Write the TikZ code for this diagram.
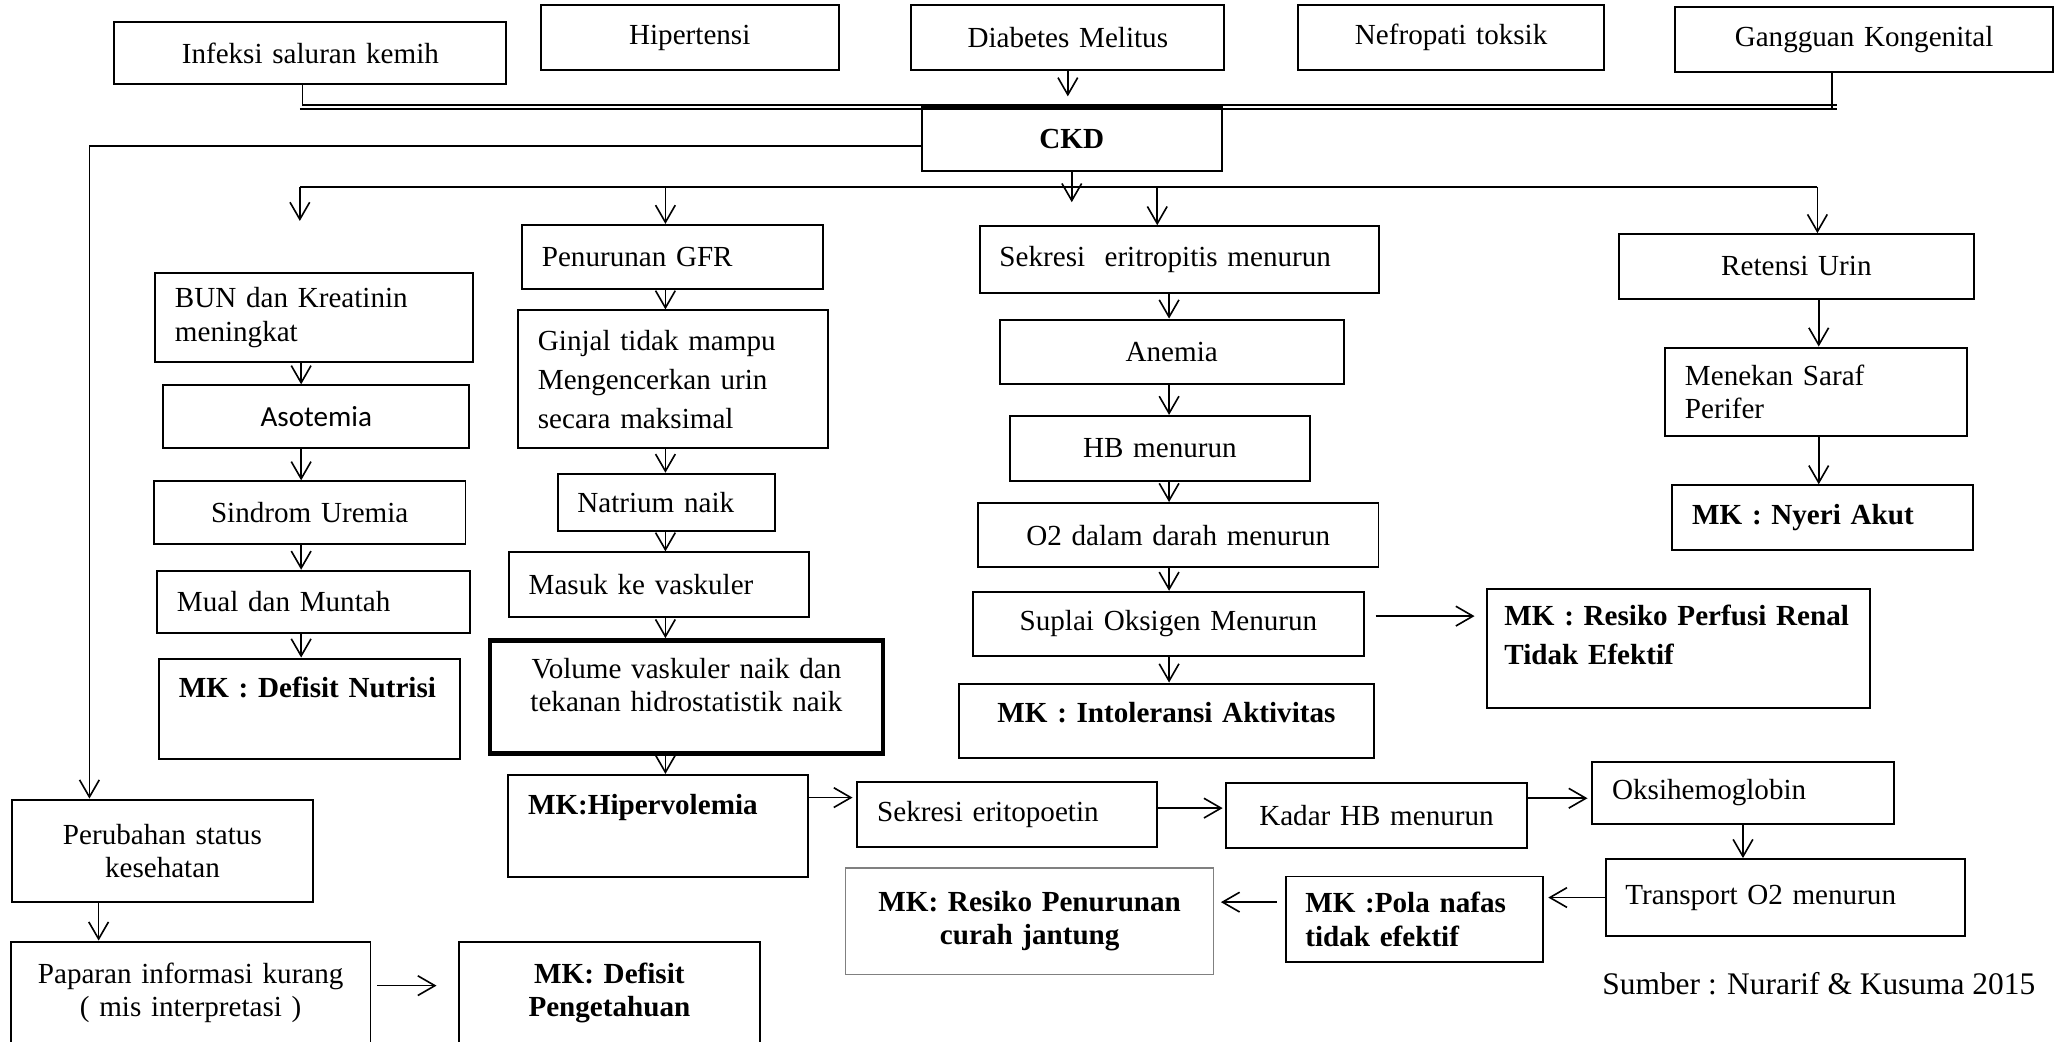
\documentclass[tikz,border=0pt]{standalone}
\usepackage{fontspec}
\setmainfont{Liberation Serif}
\newfontfamily\calibri{Carlito}
\usetikzlibrary{arrows.meta}
\newcommand{\teks}{\fontsize{12.6pt}{14.5pt}\selectfont}
\newcommand{\renggang}{\fontsize{12.6pt}{16.9pt}\selectfont}

\begin{document}
\begin{tikzpicture}[x=0.02cm, y=-0.02cm,
    >={Straight Barb[length=0.26cm, width=0.3cm]},
    kotak/.style 2 args={draw, line width=0.85pt, inner xsep=0.3cm, inner ysep=0.1cm,
        text width=#1, minimum height=#2, align=center, font=\teks},
    kiri/.style 2 args={kotak={#1}{#2}, align=left},
    mk/.style={font=\teks\bfseries},
    atas/.style={text height=0.5cm, text depth=#1},
    garis/.style={line width=0.7pt},
    panah/.style={garis, ->}]
    \useasboundingbox (0,0) rectangle (1568,792);

    % Penyebab
    \node[kotak={5.36cm}{0.94cm}] (inf) at (236,40.5) {Infeksi saluran kemih};
    \node[kotak={3.94cm}{0.98cm}] (hip) at (524.5,28.5) {Hipertensi};
    \node[kotak={4.16cm}{0.98cm}] (dm) at (812,28.5) {Diabetes Melitus};
    \node[kotak={4.06cm}{0.98cm}] (nef) at (1103.5,28.5) {Nefropati toksik};
    \node[kotak={5.14cm}{0.99cm}] (gang) at (1417.5,30) {Gangguan Kongenital};

    % CKD
    \node[kotak={3.96cm}{0.98cm}, mk] (ckd) at (815,105.5) {CKD};

    % Kolom 1
    \node[kiri={4.24cm}{1.36cm}] (bun) at (239,241.5) {BUN dan Kreatinin\\meningkat};
    \node[kotak={4.06cm}{0.96cm}, font=\calibri\teks] (aso) at (240.5,317) {Asotemia};
    \node[kotak={4.14cm}{0.96cm}] (sin) at (235.5,390) {Sindrom Uremia};
    \node[kiri={4.16cm}{0.94cm}] (mual) at (238.5,457.5) {Mual dan Muntah};
    \node[kiri={3.98cm}{1.53cm}, mk, atas=0.83cm] (nutr) at (235.5,539) {MK : Defisit Nutrisi};

    % Kolom 2
    \node[kiri={3.98cm}{0.98cm}] (gfr) at (511.5,195.5) {Penurunan GFR};
    \node[kiri={4.12cm}{2.1cm}, font=\renggang] (ginjal) at (512,288.5)
        {Ginjal tidak mampu\\Mengencerkan urin\\secara maksimal};
    \node[kiri={2.7cm}{0.87cm}] (natr) at (506.5,382) {Natrium naik};
    \node[kiri={3.96cm}{0.98cm}] (masuk) at (501,444.5) {Masuk ke vaskuler};
    \node[kotak={5.38cm}{1.72cm}, line width=2pt] (vol) at (522,530)
        {Volume vaskuler naik dan\\tekanan hidrostatistik naik\\[-4pt]\mbox{}};
    \node[kiri={3.96cm}{1.55cm}, mk, atas=0.85cm] (hiper) at (500.5,628) {MK:Hipervolemia};

    % Kolom 3
    \node[kiri={5.48cm}{1.02cm}] (sek) at (897,197.5) {Sekresi~ eritropitis menurun};
    \node[kotak={4.63cm}{0.98cm}] (anem) at (891,267.5) {Anemia};
    \node[kotak={3.97cm}{0.99cm}] (hb) at (882,341) {HB menurun};
    \node[kotak={5.49cm}{0.98cm}] (o2) at (896,407) {O2 dalam darah menurun};
    \node[kotak={5.35cm}{0.98cm}] (supl) at (888.5,474.5) {Suplai Oksigen Menurun};
    \node[kotak={5.71cm}{1.13cm}, mk, atas=0.43cm] (into) at (887,548) {MK : Intoleransi Aktivitas};
    \node[kiri={5.3cm}{1.81cm}, inner xsep=0.26cm, font=\renggang\bfseries] (perf) at (1276.5,493)
        {MK : Resiko Perfusi Renal\\Tidak Efektif\\[-5pt]\mbox{}};

    % Kolom 4
    \node[kotak={4.8cm}{0.98cm}] (ret) at (1366,202.5) {Retensi Urin};
    \node[kiri={3.99cm}{1.35cm}] (mene) at (1381,298) {Menekan Saraf\\Perifer};
    \node[kiri={3.97cm}{0.98cm}, mk] (nyeri) at (1386,393.5) {MK : Nyeri Akut};

    % Kiri bawah
    \node[kotak={3.98cm}{1.56cm}] (perub) at (123.5,647) {Perubahan status\\kesehatan};
    \node[kotak={4.87cm}{1.56cm}] (papar) at (145,755) {Paparan informasi kurang\\( mis interpretasi )};
    \node[kotak={3.97cm}{1.55cm}, mk] (pengt) at (463.4,755) {MK: Defisit\\Pengetahuan};

    % Baris bawah
    \node[kiri={3.96cm}{0.98cm}] (sekeri) at (766,619.5) {Sekresi eritopoetin};
    \node[kotak={3.97cm}{0.98cm}] (kadar) at (1046.7,620) {Kadar HB menurun};
    \node[kiri={3.98cm}{0.93cm}] (oksi) at (1325.4,603) {Oksihemoglobin};
    \node[kiri={4.86cm}{1.17cm}] (trans) at (1357.5,682.5) {Transport O2 menurun};
    \node[kiri={3.32cm}{1.3cm}, mk] (pola) at (1075.6,699) {MK :Pola nafas\\tidak efektif};
    \node[kotak={5cm}{1.62cm}, mk, draw=gray, line width=0.5pt] (resp) at (783,700.5)
        {MK: Resiko Penurunan\\curah jantung};

    \node[anchor=east, inner sep=0pt, font=\fontsize{13.6pt}{16pt}\selectfont] (sumber) at (1548,748)
        {Sumber : Nurarif \& Kusuma 2015};

    % titik bantu
    \coordinate (atas1) at (230,80);
    \coordinate (atas2) at (1397,80);
    \coordinate (bawah1) at (228,83);
    \coordinate (bawah2) at (1397,83);
    \coordinate (tiang) at (1393,83);
    \coordinate (cab1) at (228,142);
    \coordinate (cab3) at (880,142);
    \coordinate (cab4) at (1382,142);
    \coordinate (k0) at (68,0);
    \coordinate (k1) at (229,0);
    \coordinate (k2) at (506,0);
    \coordinate (k3) at (889,0);
    \coordinate (k4) at (1383,0);
    \coordinate (k5) at (75,0);

    % Garis ganda ke CKD
    \draw[garis] (inf.south -| atas1) -- (atas1) -- (atas2);
    \draw[garis] (bawah1) -- (bawah2);
    \draw[garis] (gang.south -| tiang) -- (tiang);
    \draw[panah, shorten >=0.14cm] (dm.south) -- (dm.south |- ckd.north);

    % Cabang dari CKD
    \draw[panah] ([yshift=-0.11cm]ckd.west) -| (perub.north -| k0);
    \draw[garis] (cab1) -- (cab4);
    \draw[panah] (ckd.south) -- ++(0,23);
    \draw[panah] (cab1) -- ++(0,26);
    \draw[panah] (cab1 -| k2) -- (gfr.north -| k2);
    \draw[panah] (cab3) -- (sek.north -| cab3);
    \draw[panah] (cab4) -- (ret.north -| cab4);

    % Kolom 1
    \draw[panah] (bun.south -| k1) -- (aso.north -| k1);
    \draw[panah] (aso.south -| k1) -- (sin.north -| k1);
    \draw[panah] (sin.south -| k1) -- (mual.north -| k1);
    \draw[panah] (mual.south -| k1) -- (nutr.north -| k1);

    % Kolom 2
    \draw[panah] (gfr.south -| k2) -- (ginjal.north -| k2);
    \draw[panah] (ginjal.south -| k2) -- (natr.north -| k2);
    \draw[panah] (natr.south -| k2) -- (masuk.north -| k2);
    \draw[panah] (masuk.south -| k2) -- (vol.north -| k2);
    \draw[panah] (vol.south -| k2) -- (hiper.north -| k2);

    % Kolom 3
    \draw[panah] (sek.south -| k3) -- (anem.north -| k3);
    \draw[panah] (anem.south -| k3) -- (hb.north -| k3);
    \draw[panah] (hb.south -| k3) -- (o2.north -| k3);
    \draw[panah] (o2.south -| k3) -- (supl.north -| k3);
    \draw[panah] (supl.south -| k3) -- (into.north -| k3);
    \draw[panah, shorten <=0.16cm, shorten >=0.18cm] ([yshift=0.12cm]supl.east) -- ([yshift=0.12cm]supl.east -| perf.west);

    % Kolom 4
    \draw[panah] (ret.south -| k4) -- (mene.north -| k4);
    \draw[panah] (mene.south -| k4) -- (nyeri.north -| k4);

    % Kiri bawah
    \draw[panah] (perub.south -| k5) -- (papar.north -| k5);
    \draw[panah, shorten <=0.09cm, shorten >=0.33cm] ([yshift=0.11cm]papar.east) -- ([yshift=0.11cm]papar.east -| pengt.west);

    % Baris bawah
    \draw[panah, shorten >=0.06cm] ([yshift=0.43cm]hiper.east) -- ([yshift=0.43cm]hiper.east -| sekeri.west);
    \draw[panah, shorten >=0.04cm] ([yshift=0.1cm]sekeri.east) -- ([yshift=0.1cm]sekeri.east -| kadar.west);
    \draw[panah, shorten >=0.06cm] ([yshift=-0.08cm]oksi.west -| kadar.east) -- ([yshift=-0.08cm]oksi.west);
    \draw[panah] (oksi.south) -- (oksi.south |- trans.north);
    \draw[panah, shorten >=0.06cm] (trans.west) -- (trans.west -| pola.east);
    \draw[panah, shorten <=0.12cm, shorten >=0.1cm] ([yshift=0.26cm]pola.west) -- ([yshift=0.26cm]pola.west -| resp.east);
\end{tikzpicture}
\end{document}
